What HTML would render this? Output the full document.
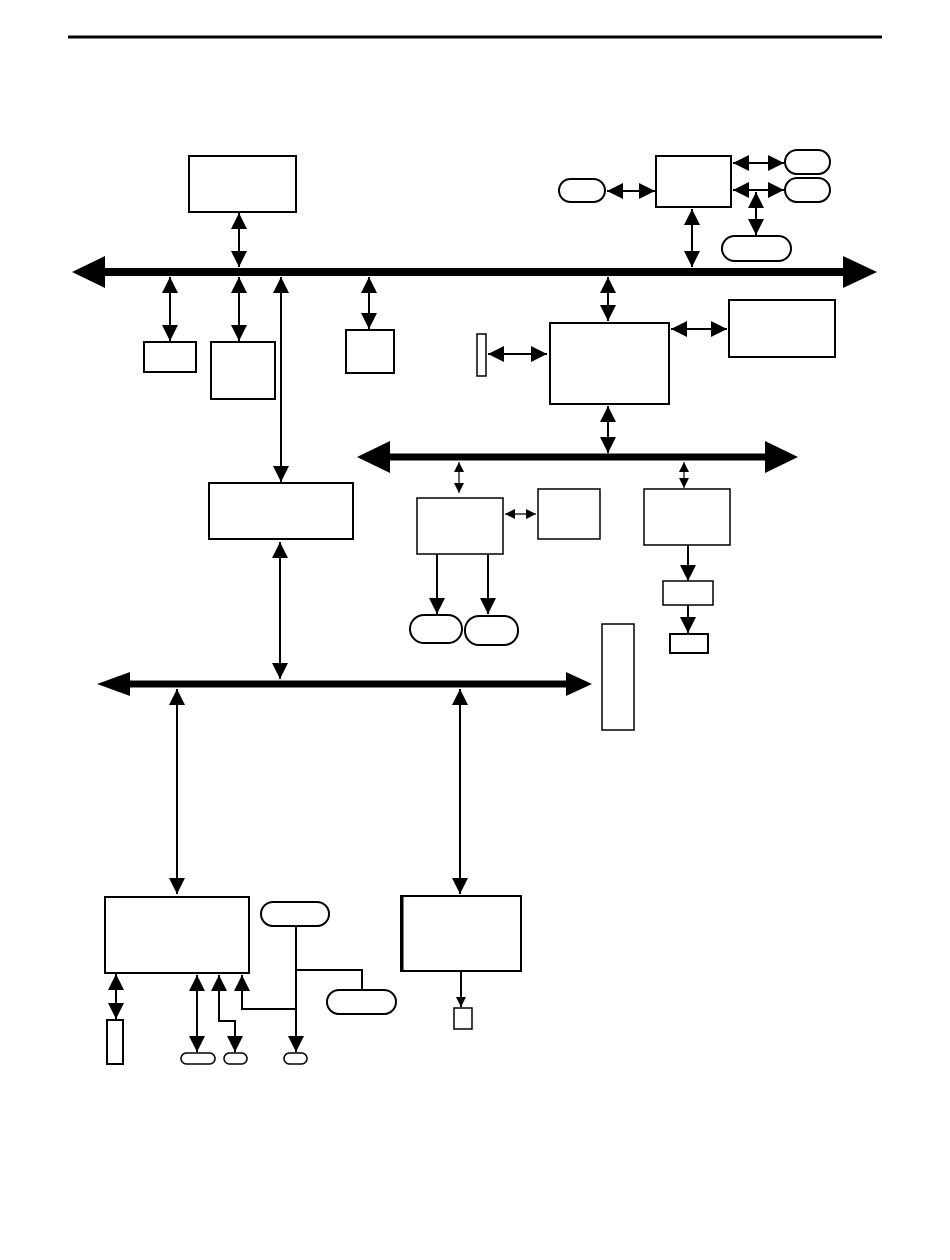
<!DOCTYPE html>
<html><head><meta charset="utf-8"><style>html,body{margin:0;padding:0;background:#fff}svg{display:block}</style></head>
<body>
<svg width="950" height="1260" viewBox="0 0 950 1260" xmlns="http://www.w3.org/2000/svg">
<defs>
<marker id="a" markerUnits="userSpaceOnUse" markerWidth="16" markerHeight="16" viewBox="0 0 14 14" refX="14" refY="7" orient="auto-start-reverse"><path d="M0,0 L14,7 L0,14 Z" fill="#000"/></marker>
<marker id="s" markerUnits="userSpaceOnUse" markerWidth="10" markerHeight="10" viewBox="0 0 10 10" refX="10" refY="5" orient="auto-start-reverse"><path d="M0,0 L10,5 L0,10 Z" fill="#000"/></marker>
</defs>
<g fill="#fff" stroke="#000" stroke-width="2">
<line x1="68" y1="37" x2="882" y2="37" stroke-width="3"/>
<!-- bus1 -->
<line x1="100" y1="272" x2="848" y2="272" stroke-width="8"/>
<polygon points="72,272 105,256 105,288" fill="#000" stroke="none"/>
<polygon points="877,272 843,256 843,288" fill="#000" stroke="none"/>
<!-- bus2 -->
<line x1="385" y1="457" x2="770" y2="457" stroke-width="7"/>
<polygon points="357,457 390,441 390,473" fill="#000" stroke="none"/>
<polygon points="798,457 765,441 765,473" fill="#000" stroke="none"/>
<!-- bus3 -->
<line x1="125" y1="684" x2="570" y2="684" stroke-width="7"/>
<polygon points="97,684 130,672 130,696" fill="#000" stroke="none"/>
<polygon points="592,684 566,672 566,696" fill="#000" stroke="none"/>

<rect x="189" y="156" width="107" height="56"/>
<rect x="144" y="342" width="52" height="30"/>
<rect x="211" y="342" width="64" height="57"/>
<rect x="346" y="330" width="48" height="43"/>
<rect x="209" y="483" width="144" height="56"/>
<rect x="656" y="156" width="75" height="51"/>
<rect x="559" y="179" width="46" height="23" rx="11.5"/>
<rect x="785" y="150" width="45" height="24" rx="12"/>
<rect x="785" y="178" width="45" height="24" rx="12"/>
<rect x="722" y="236" width="69" height="25" rx="12.5"/>
<rect x="550" y="323" width="119" height="81"/>
<rect x="729" y="300" width="106" height="57"/>
<rect x="477" y="334" width="9" height="42" stroke-width="1.5"/>
<rect x="417" y="498" width="86" height="56" stroke-width="1.5"/>
<rect x="538" y="489" width="62" height="50" stroke-width="1.5"/>
<rect x="644" y="489" width="86" height="56" stroke-width="1.5"/>
<rect x="410" y="615" width="52" height="28" rx="14"/>
<rect x="465" y="616" width="53" height="29" rx="14"/>
<rect x="663" y="581" width="50" height="24" stroke-width="1.5"/>
<rect x="670" y="634" width="38" height="19"/>
<rect x="602" y="624" width="32" height="106" stroke-width="1.5"/>
<rect x="105" y="897" width="144" height="76"/>
<rect x="401" y="896" width="120" height="75"/>
<line x1="402" y1="896" x2="402" y2="971" stroke-width="3"/>
<rect x="454" y="1008" width="18" height="21" stroke-width="1.5"/>
<rect x="107" y="1020" width="16" height="44"/>
<rect x="181" y="1053" width="34" height="11" rx="5.5" stroke-width="1.5"/>
<rect x="224" y="1053" width="23" height="11" rx="5.5" stroke-width="1.5"/>
<rect x="284" y="1053" width="23" height="11" rx="5.5" stroke-width="1.5"/>
<rect x="261" y="902" width="68" height="24" rx="12"/>
<rect x="327" y="990" width="69" height="24" rx="12"/>
</g>
<g fill="none" stroke="#000" stroke-width="2">
<line x1="239" y1="213" x2="239" y2="267" marker-start="url(#a)" marker-end="url(#a)"/>
<line x1="170" y1="277" x2="170" y2="341" marker-start="url(#a)" marker-end="url(#a)"/>
<line x1="239" y1="277" x2="239" y2="341" marker-start="url(#a)" marker-end="url(#a)"/>
<line x1="281" y1="277" x2="281" y2="482" marker-start="url(#a)" marker-end="url(#a)"/>
<line x1="369" y1="277" x2="369" y2="329" marker-start="url(#a)" marker-end="url(#a)"/>
<line x1="607" y1="191" x2="655" y2="191" marker-start="url(#a)" marker-end="url(#a)"/>
<line x1="733" y1="163" x2="784" y2="163" marker-start="url(#a)" marker-end="url(#a)"/>
<line x1="733" y1="190" x2="784" y2="190" marker-start="url(#a)" marker-end="url(#a)"/>
<line x1="756" y1="192" x2="756" y2="235" marker-start="url(#a)" marker-end="url(#a)"/>
<line x1="692" y1="209" x2="692" y2="267" marker-start="url(#a)" marker-end="url(#a)"/>
<line x1="608" y1="277" x2="608" y2="321" marker-start="url(#a)" marker-end="url(#a)"/>
<line x1="671" y1="329" x2="727" y2="329" marker-start="url(#a)" marker-end="url(#a)"/>
<line x1="488" y1="354" x2="547" y2="354" marker-start="url(#a)" marker-end="url(#a)"/>
<line x1="608" y1="406" x2="608" y2="453" marker-start="url(#a)" marker-end="url(#a)"/>
<line x1="459" y1="462" x2="459" y2="493" stroke-width="1.2" marker-start="url(#s)" marker-end="url(#s)"/>
<line x1="505" y1="514" x2="536" y2="514" stroke-width="1.2" marker-start="url(#s)" marker-end="url(#s)"/>
<line x1="684" y1="462" x2="684" y2="488" stroke-width="1.2" marker-start="url(#s)" marker-end="url(#s)"/>
<line x1="437" y1="554" x2="437" y2="614" marker-end="url(#a)"/>
<line x1="488" y1="554" x2="488" y2="614" marker-end="url(#a)"/>
<line x1="688" y1="545" x2="688" y2="581" marker-end="url(#a)"/>
<line x1="688" y1="605" x2="688" y2="633" marker-end="url(#a)"/>
<line x1="280" y1="542" x2="280" y2="679" marker-start="url(#a)" marker-end="url(#a)"/>
<line x1="177" y1="689" x2="177" y2="894" marker-start="url(#a)" marker-end="url(#a)"/>
<line x1="460" y1="689" x2="460" y2="894" marker-start="url(#a)" marker-end="url(#a)"/>
<line x1="461" y1="971" x2="461" y2="1007" marker-end="url(#s)"/>
<line x1="116" y1="974" x2="116" y2="1019" marker-start="url(#a)" marker-end="url(#a)"/>
<line x1="197" y1="975" x2="197" y2="1052" marker-start="url(#a)" marker-end="url(#a)"/>
<polyline points="235,1052 235,1021 219,1021 219,975" marker-start="url(#a)" marker-end="url(#a)"/>
<polyline points="296,1009 242,1009 242,975" marker-end="url(#a)"/>
<line x1="296" y1="926" x2="296" y2="1052" marker-end="url(#a)"/>
<polyline points="296,970 362,970 362,990"/>
</g>
</svg>
</body></html>
